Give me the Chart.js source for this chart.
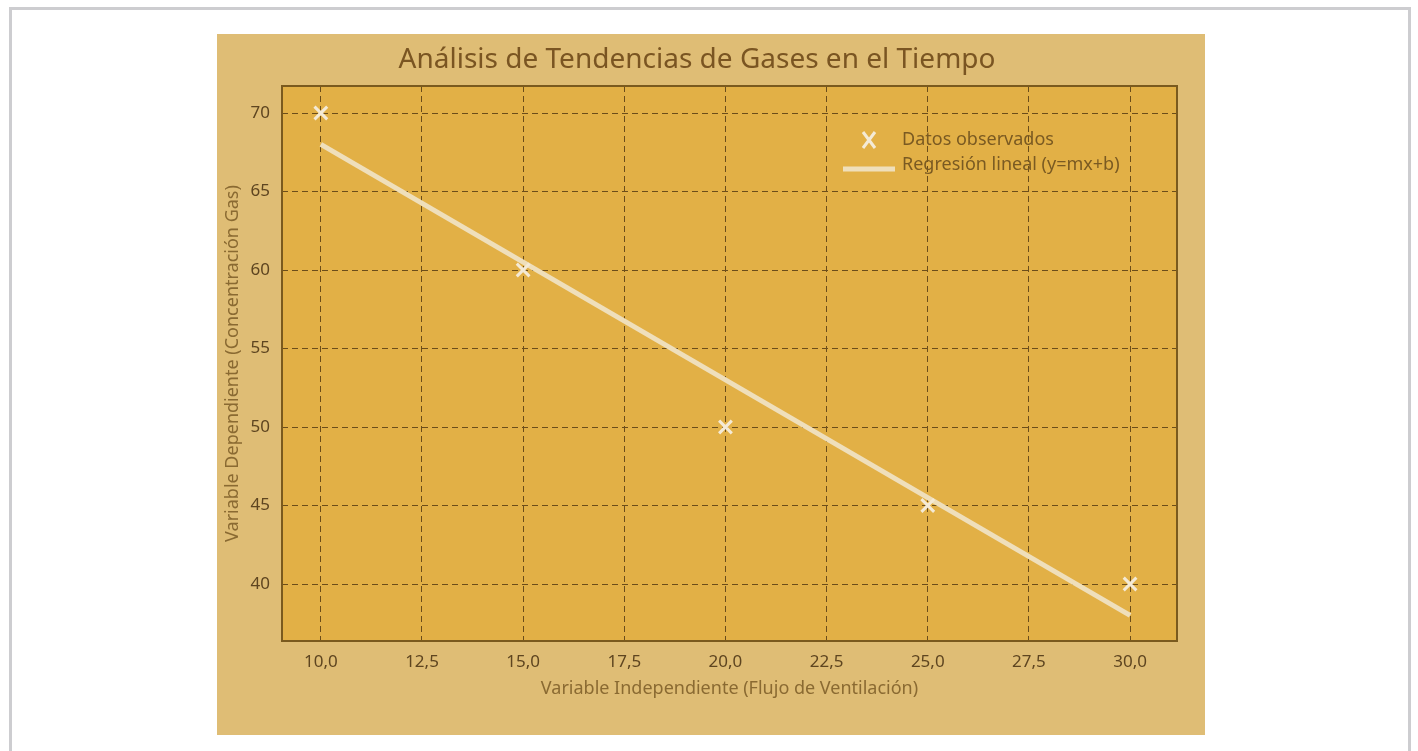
<!DOCTYPE html>
<html lang="es">
<head>
<meta charset="utf-8">
<title>Análisis de Tendencias de Gases en el Tiempo</title>
<script src="https://cdn.jsdelivr.net/npm/chart.js@4.4.1/dist/chart.umd.min.js"></script>
<style>
  body { margin: 0; background: #fff; }
  .card {
    position: absolute; left: 9px; top: 7px;
    width: 1396px; height: 800px;
    border: 3px solid #cdcdd0; background: #fff;
  }
  .panel {
    position: absolute; left: 205px; top: 24px;
    width: 988px; height: 701px;
    background: #dfbd75;
  }
</style>
</head>
<body>
<div class="card">
  <div class="panel"><canvas id="gases"></canvas></div>
</div>
<script>
// datos observados
let flujo = [10, 15, 20, 25, 30];
let concentracion = [70, 60, 50, 45, 40];

// recta de regresión (extremos)
let flujoRecta = [10, 30];
let concentracionRecta = [68, 38];

let xTicks = [10, 12.5, 15, 17.5, 20, 22.5, 25, 27.5, 30];
let yTicks = [40, 45, 50, 55, 60, 65, 70];

const ink = "#5e4520";
const grid = "#6b4d1a";
const font = "'Noto Sans'";

// fondo y marco del área de trazado
const plotFrame = {
  id: "plotFrame",
  beforeDraw(chart) {
    const { ctx, chartArea: a } = chart;
    ctx.save();
    ctx.fillStyle = "#e2b046";
    ctx.fillRect(a.left, a.top, a.right - a.left, a.bottom - a.top);
    ctx.restore();
  },
  afterDraw(chart) {
    const { ctx, chartArea: a } = chart;
    ctx.save();
    ctx.strokeStyle = "#7a5a1e";
    ctx.lineWidth = 2;
    ctx.strokeRect(a.left, a.top, a.right - a.left, a.bottom - a.top);
    ctx.restore();
  }
};

// leyenda dentro del gráfico, arriba a la derecha
const innerLegend = {
  id: "innerLegend",
  afterDatasetsDraw(chart) {
    const { ctx, chartArea: a } = chart;
    const ds = chart.data.datasets;
    const tx = a.right - 275;
    ctx.save();
    ctx.font = "18px " + font;
    ctx.fillStyle = "#7a5a22";
    ctx.textBaseline = "middle";

    // marcador X
    const mx = a.right - 308, my = a.top + 54;
    ctx.strokeStyle = ds[0].borderColor;
    ctx.lineWidth = 3;
    ctx.beginPath();
    ctx.moveTo(mx - 6, my - 8); ctx.lineTo(mx + 6, my + 8);
    ctx.moveTo(mx + 6, my - 8); ctx.lineTo(mx - 6, my + 8);
    ctx.stroke();
    ctx.fillText(ds[0].label, tx, my);

    // línea
    const ly = a.top + 83;
    ctx.strokeStyle = ds[1].borderColor;
    ctx.lineWidth = 5;
    ctx.beginPath();
    ctx.moveTo(a.right - 334, ly); ctx.lineTo(a.right - 282, ly);
    ctx.stroke();
    ctx.fillText(ds[1].label, tx, a.top + 79);
    ctx.restore();
  }
};

const ctx = document.getElementById("gases").getContext("2d");
new Chart(ctx, {
  type: "scatter",
  data: {
    datasets: [
      {
        label: "Datos observados",
        data: flujo.map((x, i) => ({ x: x, y: concentracion[i] })),
        pointStyle: "crossRot",
        pointRadius: 9,
        pointHoverRadius: 9,
        borderWidth: 3,
        borderColor: "#f4ead6",
        backgroundColor: "#f4ead6",
        order: 0
      },
      {
        label: "Regresión lineal (y=mx+b)",
        type: "line",
        data: flujoRecta.map((x, i) => ({ x: x, y: concentracionRecta[i] })),
        borderColor: "#efdfbb",
        borderWidth: 5,
        pointRadius: 0,
        fill: false,
        order: 1
      }
    ]
  },
  options: {
    responsive: true,
    maintainAspectRatio: false,
    animation: false,
    layout: { padding: { left: 0, right: 28, top: 0, bottom: 0 } },
    plugins: {
      legend: { display: false },
      tooltip: { enabled: false },
      title: {
        display: true,
        text: "Análisis de Tendencias de Gases en el Tiempo",
        color: "#7a5522",
        font: { family: font, size: 28, weight: "normal" },
        padding: { top: 9, bottom: 9.4 }
      }
    },
    scales: {
      x: {
        type: "linear",
        min: 9.04,
        max: 31.16,
        afterBuildTicks: (s) => { s.ticks = xTicks.map(v => ({ value: v })); },
        afterFit: (s) => { s.height = 94; },
        border: { display: false, dash: [6, 4] },
        grid: { color: grid, lineWidth: 1, drawTicks: false },
        ticks: {
          color: ink,
          padding: 11,
          maxRotation: 0,
          font: { family: font, size: 17 },
          callback: (v) => v.toFixed(1).replace(".", ",")
        },
        title: {
          display: true,
          text: "Variable Independiente (Flujo de Ventilación)",
          color: "#8a6a32",
          font: { family: font, size: 18 },
          padding: { top: 0, bottom: 35 }
        }
      },
      y: {
        type: "linear",
        min: 36.37,
        max: 71.72,
        afterBuildTicks: (s) => { s.ticks = yTicks.map(v => ({ value: v })); },
        afterFit: (s) => { s.width = 65; },
        border: { display: false, dash: [6, 4] },
        grid: { color: grid, lineWidth: 1, drawTicks: false },
        ticks: {
          color: ink,
          padding: 12,
          font: { family: font, size: 17 }
        },
        title: {
          display: true,
          text: "Variable Dependiente (Concentración Gas)",
          color: "#8a6a32",
          font: { family: font, size: 18 },
          padding: { top: 5, bottom: 0 }
        }
      }
    }
  },
  plugins: [plotFrame, innerLegend]
});
</script>
</body>
</html>
